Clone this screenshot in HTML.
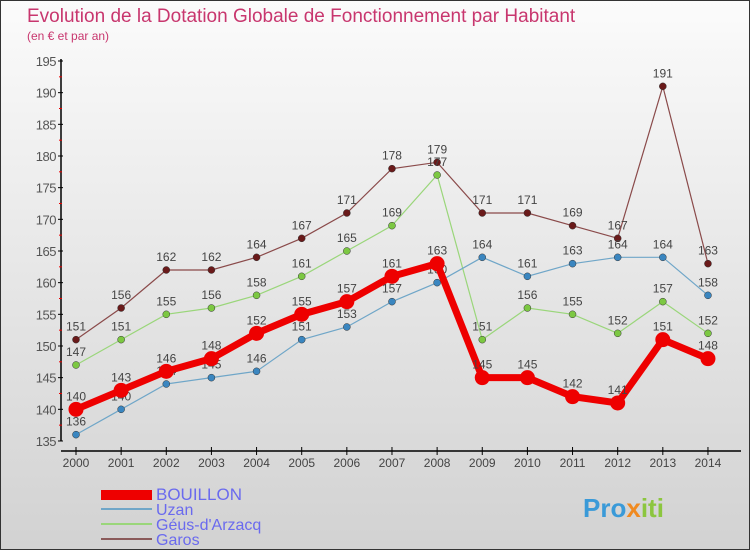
<!DOCTYPE html>
<html><head><meta charset="utf-8"><style>
body{margin:0}
#c{width:748px;height:548px;border:1px solid #333;background:linear-gradient(#fbfbfb,#d2d2d2);position:relative;overflow:hidden;font-family:"Liberation Sans",sans-serif}
</style></head><body>
<div id="c">
<svg id="s" width="748" height="548" xmlns="http://www.w3.org/2000/svg">
<text x="26" y="21" font-size="19" fill="#c8366e">Evolution de la Dotation Globale de Fonctionnement par Habitant</text>
<text x="26" y="39" font-size="12" fill="#c8366e">(en € et par an)</text>
<g id="ax"></g><g id="ser"></g>
<g>
<rect x="100" y="489" width="51" height="10" fill="#e00"/>
<text x="155" y="499" font-size="17" fill="#6a6aee">BOUILLON</text>
<rect x="100" y="507" width="51" height="2" fill="#6fa6c8"/>
<text x="155" y="514" font-size="16" fill="#6a6aee">Uzan</text>
<rect x="100" y="522" width="51" height="2" fill="#9ad67a"/>
<text x="155" y="529" font-size="16" fill="#6a6aee">Géus-d'Arzacq</text>
<rect x="100" y="537" width="51" height="2" fill="#8a5a5a"/>
<text x="155" y="544" font-size="16" fill="#6a6aee">Garos</text>
</g>
<text x="582" y="516" font-size="26" font-weight="bold" fill="#3a9ad8">Pro<tspan fill="#f08a20">x</tspan><tspan fill="#8cc63f">iti</tspan></text>
</svg></div>
<script>
const years=["2000","2001","2002","2003","2004","2005","2006","2007","2008","2009","2010","2011","2012","2013","2014"];
const yTicks=[135,140,145,150,155,160,165,170,175,180,185,190,195];
const bouillon=[140,143,146,148,152,155,157,161,163,145,145,142,141,151,148];
const uzan=[136,140,144,145,146,151,153,157,160,164,161,163,164,164,158];
const geus=[147,151,155,156,158,161,165,169,177,151,156,155,152,157,152];
const garos=[151,156,162,162,164,167,171,178,179,171,171,169,167,191,163];
const NS="http://www.w3.org/2000/svg";
const X=i=>75+i*45.14, Y=v=>60+(195-v)*6.333;
function mk(t,a,p){const e=document.createElementNS(NS,t);for(const k in a)e.setAttribute(k,a[k]);p.appendChild(e);return e;}
const ax=document.getElementById('ax');
const yl=mk('line',{x1:60,y1:58,x2:60,y2:Y(135),stroke:'#000','stroke-width':1.5},ax);


const xl=mk('line',{x1:60,y1:450,x2:740,y2:450,stroke:'#000','stroke-width':1.5},ax);


yTicks.forEach(v=>{
 mk('line',{x1:57,x2:62,y1:Y(v),y2:Y(v),stroke:'#000'},ax);
 if(v<195)mk('line',{x1:58,x2:61,y1:Y(v+2.5),y2:Y(v+2.5),stroke:'#e00'},ax);
 const t=mk('text',{x:55,y:Y(v)+5,'font-size':13,fill:'#555','text-anchor':'end','letter-spacing':'-0.5'},ax);t.textContent=v;
 
 
});
years.forEach((y,i)=>{
 mk('line',{x1:X(i),x2:X(i),y1:446,y2:454,stroke:'#000'},ax);
 const t=mk('text',{x:X(i),y:466,'font-size':12,fill:'#444','text-anchor':'middle'},ax);t.textContent=y;
 
 
});
const ser=document.getElementById('ser');
function draw(d,name,col,dot,w,r){
 const g=mk('g',{},ser);
 
 
 mk('polyline',{points:d.map((v,i)=>X(i)+','+Y(v)).join(' '),fill:'none',stroke:col,'stroke-width':w},g);
 d.forEach((v,i)=>{
  const c=mk('circle',{cx:X(i),cy:Y(v),r:r,fill:dot,stroke:r>4?'none':'#333','stroke-width':0.5},g);
  
  
  const t=mk('text',{x:X(i),y:Y(v)-9,'font-size':12,fill:'#444','text-anchor':'middle'},g);t.textContent=v;
  
  
 });
}
draw(garos,'garos','#8a4a4a','#6a1a1a',1.2,3.5);
draw(geus,'geus','#9ad67a','#7cc842',1.2,3.5);
draw(uzan,'uzan','#6fa6c8','#3a86c0',1.2,3.5);
draw(bouillon,'bouillon','#e00','#e00',7,7.5);
</script>
</body></html>
